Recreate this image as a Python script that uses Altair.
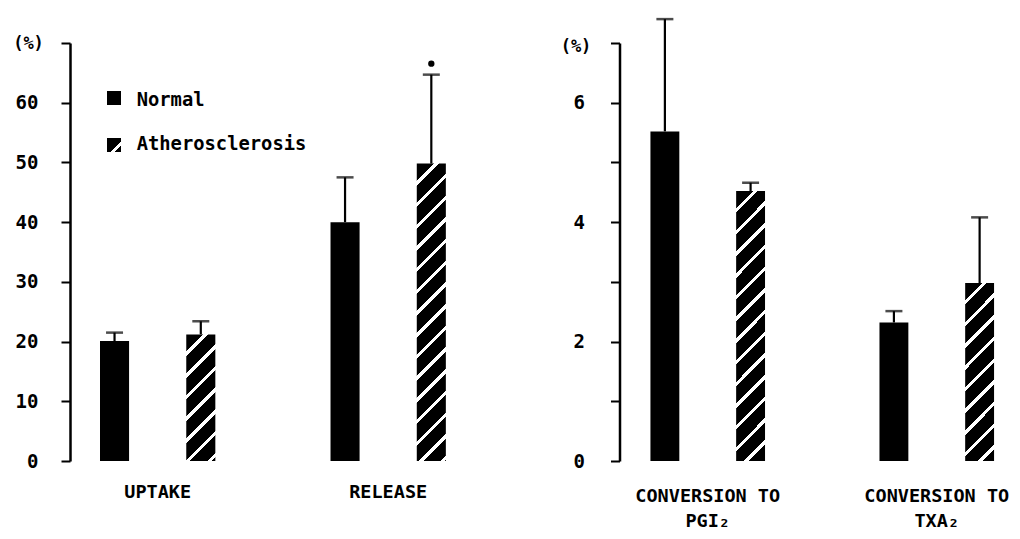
import altair as alt
import pandas as pd

# ---------------- data ----------------
series = ["Normal", "Atherosclerosis"]

left_categories = ["UPTAKE", "RELEASE"]
left_normal_mean = [20.1, 40.0]
left_normal_sem = [1.4, 7.5]
left_athero_mean = [21.2, 49.8]
left_athero_sem = [2.2, 14.9]
left_significant = [False, True]
left_ticks = [0, 10, 20, 30, 40, 50, 60, 70]

right_categories = ["CONVERSION TO|PGI₂", "CONVERSION TO|TXA₂"]
right_normal_mean = [5.52, 2.32]
right_normal_sem = [1.88, 0.19]
right_athero_mean = [4.52, 2.98]
right_athero_sem = [0.14, 1.10]
right_significant = [False, False]
right_ticks = [0, 1, 2, 3, 4, 5, 6, 7]

unit_label = "(%)"

# ---------------- layout / style ----------------
FONT = "DejaVu Sans Mono"
PLOT_W, PLOT_H = 950, 418
PAD = {"left": 70, "top": 43, "right": 0, "bottom": 78}
X_PAD_INNER = 0.35
OFF_PAD_INNER = 0.663
OFF_PAD_OUTER = 0.2
LEFT_RANGE = [12.75, 393.1]
RIGHT_RANGE = [563.3, 941.2]
RIGHT_AXIS_X = 549.5

step_x = (LEFT_RANGE[1] - LEFT_RANGE[0]) / (2 - X_PAD_INNER)
band_x = step_x * (1 - X_PAD_INNER)
step_o = band_x / (2 - OFF_PAD_INNER + 2 * OFF_PAD_OUTER)
BAR_W = step_o * (1 - OFF_PAD_INNER)


def hatch_fill(w, h, period=21.7, gap=4.5):
    """45-degree white stripes on black, in object-bounding-box gradient units."""
    denom = w * w + h * h
    k_t = w / denom
    tmax = k_t * (w + h)
    stops = []
    k = 0
    while True:
        a = k * period * k_t
        if a > tmax:
            break
        b = a + (period - gap) * k_t
        c = a + period * k_t
        for off, col in [(a, "black"), (b, "black"), (b, "white"), (c, "white")]:
            stops.append(alt.GradientStop(offset=round(min(off, 1.0), 6), color=col))
        k += 1
    return alt.LinearGradient(gradient="linear", stops=stops, x1=0, y1=0, x2=1, y2=h / w)


def panel(categories, nm, ns, am, asem, sig, ymax, ticks, xrange, axis_offset,
          label_pad_x, label_pad_y, title_x, title_y, label_expr_y):
    rows = []
    for i, c in enumerate(categories):
        rows.append(dict(category=c, series=series[0], mean=nm[i], upper=nm[i] + ns[i], sig=False))
        rows.append(dict(category=c, series=series[1], mean=am[i], upper=am[i] + asem[i], sig=sig[i]))
    df = pd.DataFrame(rows)

    xdef = alt.X(
        "category:N", sort=categories,
        scale=alt.Scale(domain=categories, range=xrange, paddingInner=X_PAD_INNER, paddingOuter=0),
        axis=alt.Axis(orient="bottom", title=None, domain=False, ticks=False, labelAngle=0,
                      labelExpr="split(datum.label, '|')", labelPadding=label_pad_x,
                      labelLineHeight=25, labelFontSize=18.5, labelFont=FONT,
                      labelFontWeight="bold", labelColor="black", labelBaseline="top"),
    )
    xodef = alt.XOffset(
        "series:N", sort=series,
        scale=alt.Scale(domain=series, paddingInner=OFF_PAD_INNER, paddingOuter=OFF_PAD_OUTER),
    )

    def ydef(field):
        return alt.Y(
            f"{field}:Q",
            scale=alt.Scale(domain=[0, ymax], nice=False, zero=True),
            axis=alt.Axis(orient="left", offset=axis_offset, values=ticks, grid=False,
                          labelExpr=label_expr_y, tickSize=9, tickWidth=2, domainWidth=2.5,
                          domainColor="black", tickColor="black", labelPadding=label_pad_y,
                          labelFont=FONT, labelFontSize=19, labelFontWeight="bold",
                          labelColor="black", labelBaseline="middle",
                          title=unit_label, titleAngle=0, titleX=title_x, titleY=title_y,
                          titleAlign="center", titleBaseline="middle", titleFont=FONT,
                          titleFontSize=17, titleFontWeight="bold", titleColor="black"),
        )

    layers = []
    normal = df[df.series == series[0]]
    layers.append(alt.Chart(normal).mark_bar(color="black", strokeWidth=0).encode(
        x=xdef, xOffset=xodef, y=ydef("mean")))
    athero = df[df.series == series[1]]
    for j in range(len(athero)):
        row = athero.iloc[[j]]
        h = float(row["mean"].iloc[0]) / ymax * PLOT_H
        layers.append(alt.Chart(row).mark_bar(fill=hatch_fill(BAR_W, h), strokeWidth=0).encode(
            x=xdef, xOffset=xodef, y=ydef("mean")))
    layers.append(alt.Chart(df).mark_rule(color="black", strokeWidth=2.2).encode(
        x=xdef, xOffset=xodef, y=ydef("mean"), y2="upper:Q"))
    layers.append(alt.Chart(df).mark_tick(color="black", thickness=2.5, size=17).encode(
        x=xdef, xOffset=xodef, y=ydef("upper")))
    sig_df = df[df.sig]
    if len(sig_df):
        layers.append(alt.Chart(sig_df).mark_circle(color="black", opacity=1, size=40, yOffset=-11).encode(
            x=xdef, xOffset=xodef, y=ydef("upper")))
    return alt.layer(*layers)


left = panel(left_categories, left_normal_mean, left_normal_sem, left_athero_mean, left_athero_sem,
             left_significant, 70, left_ticks, LEFT_RANGE, 0, 21, 23, -42, 0,
             "datum.value > 60 ? '' : datum.label")
right = panel(right_categories, right_normal_mean, right_normal_sem, right_athero_mean, right_athero_sem,
              right_significant, 7, right_ticks, RIGHT_RANGE, -RIGHT_AXIS_X, 25, 26, -44, 3,
              "datum.value % 2 == 0 ? datum.label : ''")

# ---------------- legend ----------------
leg_normal_sym = alt.Chart(pd.DataFrame({"s": [series[0]]})).mark_rect(color="black").encode(
    x=alt.value(37), x2=alt.value(51), y=alt.value(48), y2=alt.value(62))
leg_athero_sym = alt.Chart(pd.DataFrame({"s": [series[1]]})).mark_rect(
    fill=hatch_fill(14, 14, period=21.7, gap=4.5)).encode(
    x=alt.value(37), x2=alt.value(51), y=alt.value(95), y2=alt.value(109))
leg_normal_txt = alt.Chart(pd.DataFrame({"s": [series[0]]})).mark_text(
    align="left", baseline="middle", font=FONT, fontSize=18.8, fontWeight="bold", color="black").encode(
    text="s:N", x=alt.value(66.7), y=alt.value(57))
leg_athero_txt = alt.Chart(pd.DataFrame({"s": [series[1]]})).mark_text(
    align="left", baseline="middle", font=FONT, fontSize=18.8, fontWeight="bold", color="black").encode(
    text="s:N", x=alt.value(66.7), y=alt.value(101))

chart = alt.layer(left, right, leg_normal_sym, leg_athero_sym, leg_normal_txt, leg_athero_txt).resolve_scale(
    x="independent", y="independent", xOffset="independent"
).resolve_axis(
    x="independent", y="independent"
).properties(
    width=PLOT_W, height=PLOT_H, padding=PAD, autosize=alt.AutoSizeParams(type="none"),
    background="white",
).configure_view(strokeWidth=0)

chart.save("out.html", embed_options={"renderer": "svg", "actions": False})
